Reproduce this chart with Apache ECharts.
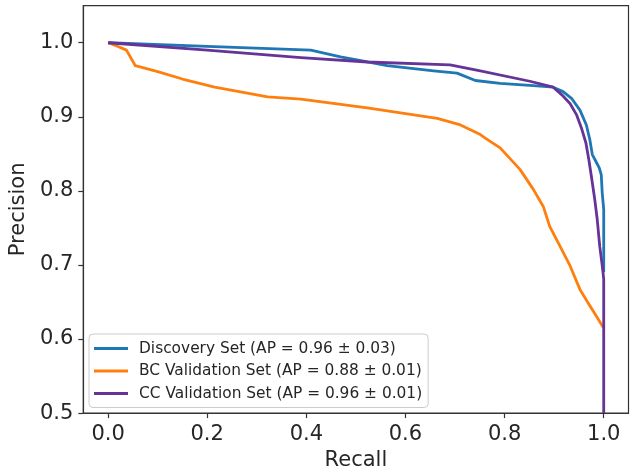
<!DOCTYPE html>
<html>
<head>
<meta charset="utf-8">
<script src="https://cdn.jsdelivr.net/npm/echarts@6/dist/echarts.min.js"></script>
<style>
  html, body { margin: 0; padding: 0; background: #ffffff; }
  #chart { width: 634px; height: 476px; }
</style>
</head>
<body>
<div id="chart"></div>
<script>
// Precision-recall curves for the three cohorts
const seriesNames = [
  'Discovery Set (AP = 0.96 \u00b1 0.03)',
  'BC Validation Set (AP = 0.88 \u00b1 0.01)',
  'CC Validation Set (AP = 0.96 \u00b1 0.01)'
];
const seriesColors = ['#1f77b4', '#ff7f0e', '#663399'];

const discoveryRecall = [0, 0.2, 0.409, 0.469, 0.51, 0.563, 0.657, 0.704, 0.741, 0.791, 0.858, 0.898, 0.918, 0.935, 0.952, 0.965, 0.972, 0.977, 0.984, 0.991, 0.995, 0.997, 1.0, 1.0];
const discoveryPrecision = [1.0, 0.995, 0.990, 0.981, 0.976, 0.969, 0.962, 0.959, 0.949, 0.945, 0.942, 0.940, 0.934, 0.925, 0.909, 0.889, 0.869, 0.849, 0.840, 0.831, 0.822, 0.797, 0.775, 0.69];

const bcRecall = [0, 0.02, 0.037, 0.055, 0.1, 0.15, 0.215, 0.322, 0.389, 0.523, 0.664, 0.711, 0.751, 0.764, 0.791, 0.831, 0.858, 0.878, 0.891, 0.912, 0.932, 0.952, 0.972, 0.985, 0.997, 1.0];
const bcPrecision = [1.0, 0.995, 0.990, 0.969, 0.961, 0.951, 0.940, 0.927, 0.924, 0.912, 0.898, 0.889, 0.876, 0.870, 0.858, 0.829, 0.802, 0.779, 0.752, 0.725, 0.699, 0.667, 0.645, 0.631, 0.618, 0.615];

const ccRecall = [0, 0.2, 0.389, 0.523, 0.690, 0.751, 0.851, 0.898, 0.915, 0.932, 0.945, 0.955, 0.964, 0.970, 0.975, 0.982, 0.987, 0.992, 0.997, 1.0, 1.0];
const ccPrecision = [1.0, 0.990, 0.980, 0.974, 0.970, 0.962, 0.948, 0.940, 0.930, 0.918, 0.903, 0.885, 0.865, 0.842, 0.820, 0.788, 0.761, 0.725, 0.699, 0.681, 0.50];

const xTicks = [0, 0.2, 0.4, 0.6, 0.8, 1.0];
const yTicks = [0.5, 0.6, 0.7, 0.8, 0.9, 1.0];

const zip = (xs, ys) => xs.map((x, i) => [x, ys[i]]);
const curves = [
  zip(discoveryRecall, discoveryPrecision),
  zip(bcRecall, bcPrecision),
  zip(ccRecall, ccPrecision)
];

const FONT = 'DejaVu Sans';
const INK = '#262626';
const AXIS = '#333333';

const chart = echarts.init(document.getElementById('chart'), null, { renderer: 'canvas' });

chart.setOption({
  animation: false,
  backgroundColor: '#ffffff',
  grid: {
    left: 81.5, right: 5.5, top: 5.7, bottom: 61.7,
    show: true, borderColor: AXIS, borderWidth: 1.2, backgroundColor: 'transparent'
  },
  xAxis: {
    type: 'value',
    min: -0.05, max: 1.05,
    name: 'Recall',
    nameLocation: 'middle',
    nameGap: 36,
    nameTextStyle: { fontFamily: FONT, fontSize: 21, color: INK },
    axisLine: { show: true, onZero: false, lineStyle: { color: AXIS, width: 1.2 } },
    axisTick: { show: true, length: 5, customValues: xTicks, lineStyle: { color: AXIS, width: 1.2 } },
    axisLabel: {
      customValues: xTicks, margin: 11,
      fontFamily: FONT, fontSize: 21, color: INK,
      formatter: v => v.toFixed(1)
    },
    splitLine: { show: false }
  },
  yAxis: {
    type: 'value',
    min: 0.5, max: 1.05,
    name: 'Precision',
    nameLocation: 'middle',
    nameGap: 50,
    nameTextStyle: { fontFamily: FONT, fontSize: 21, color: INK },
    axisLine: { show: true, onZero: false, lineStyle: { color: AXIS, width: 1.2 } },
    axisTick: { show: true, length: 5, customValues: yTicks, lineStyle: { color: AXIS, width: 1.2 } },
    axisLabel: {
      customValues: yTicks, margin: 10,
      fontFamily: FONT, fontSize: 21, color: INK,
      formatter: v => v.toFixed(1)
    },
    splitLine: { show: false }
  },
  legend: {
    left: 89, top: 334,
    orient: 'vertical',
    icon: 'rect',
    itemWidth: 34, itemHeight: 3,
    itemGap: 4.5,
    padding: [5.5, 6, 5, 5],
    borderColor: '#cccccc', borderWidth: 1, borderRadius: 4,
    backgroundColor: 'rgba(255,255,255,0.8)',
    textStyle: { fontFamily: FONT, fontSize: 15.4, lineHeight: 18, color: INK, padding: [0, 0, 0, 6] },
    data: seriesNames
  },
  series: curves.map((pts, i) => ({
    name: seriesNames[i],
    type: 'line',
    data: pts,
    showSymbol: false,
    symbol: 'none',
    color: seriesColors[i],
    lineStyle: { color: seriesColors[i], width: 2.8, join: 'round', cap: 'butt' },
    itemStyle: { color: seriesColors[i] },
    z: 2 + i
  }))
});
</script>
</body>
</html>
